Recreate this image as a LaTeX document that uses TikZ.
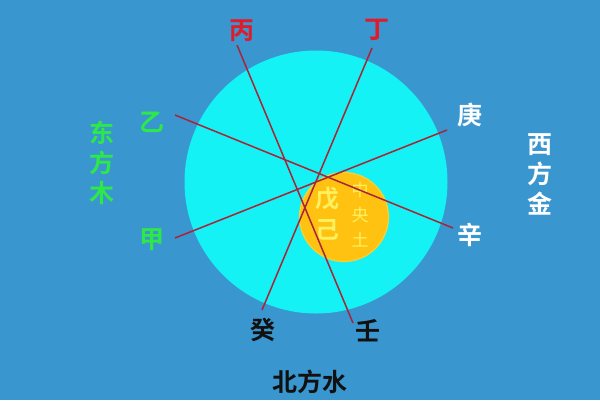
\documentclass[tikz,border=0pt]{standalone}
\usepackage{fontspec}
\newfontfamily\cjk{Noto Sans CJK SC}
\newfontfamily\cjkb{Noto Sans CJK SC Bold}
\definecolor{bg}{HTML}{3A96CF}
\definecolor{cy}{HTML}{14F2F5}
\definecolor{yel}{HTML}{FFC211}
\definecolor{yedge}{HTML}{F5D23A}
\definecolor{lyel}{HTML}{FFF060}
\definecolor{rl}{HTML}{A82438}
\definecolor{gr}{HTML}{2EE84A}
\definecolor{rd}{HTML}{E01B2A}
\definecolor{blk}{HTML}{111111}
\tikzset{
  lab/.style={font=\cjkb\fontsize{25}{25}\selectfont, inner sep=0pt},
  vlab/.style={font=\cjkb\fontsize{25}{30}\selectfont, inner sep=0pt, align=center},
  ray/.style={draw=rl, line width=1.5pt},
}
\begin{document}
\begin{tikzpicture}[x=1pt,y=-1pt]
\useasboundingbox (0,0) rectangle (600,400);
\fill[bg] (0,0) rectangle (600,400);
\node[circle, fill=cy, minimum size=263pt, inner sep=0pt] (big) at (316,182) {};
\node[circle, fill=yel, draw=yedge, line width=1.2pt, minimum size=89pt, inner sep=0pt] (mid) at (344,217) {};
% ray end points
\coordinate (pA) at (237,45);
\coordinate (pB) at (353,323);
\coordinate (pC) at (372,48);
\coordinate (pD) at (262,310);
\coordinate (pE) at (175,115);
\coordinate (pF) at (453,228);
\coordinate (pG) at (175,238);
\coordinate (pH) at (447,130);
% text in yellow circle
\node[font=\cjkb\fontsize{24}{31}\selectfont, text=lyel, align=center, inner sep=0pt] (wuji) at (327,214) {戊\\己};
\node[font=\cjk\fontsize{17}{25}\selectfont, text=lyel, align=center, inner sep=0pt] (zyt) at (360,215) {中\\央\\土};
\draw[ray] (pA) -- (pB);
\draw[ray] (pC) -- (pD);
\draw[ray] (pE) -- (pF);
\draw[ray] (pG) -- (pH);
% labels
\node[lab, text=rd] (bing) at (242,31) {丙};
\node[lab, text=rd] (ding) at (377,30) {丁};
\node[lab, text=gr] (yi) at (152,122) {乙};
\node[lab, text=gr] (jia) at (152,240) {甲};
\node[lab, text=white] (geng) at (470,115) {庚};
\node[lab, text=white] (xin) at (470,235) {辛};
\node[lab, text=blk] (gui) at (263,330) {癸};
\node[lab, text=blk] (ren) at (368,331) {壬};
\node[vlab, text=gr] (east) at (102,163) {东\\方\\木};
\node[vlab, text=white] (west) at (540,174) {西\\方\\金};
\node[lab, text=blk] (north) at (310,382) {北方水};
\end{tikzpicture}
\end{document}
